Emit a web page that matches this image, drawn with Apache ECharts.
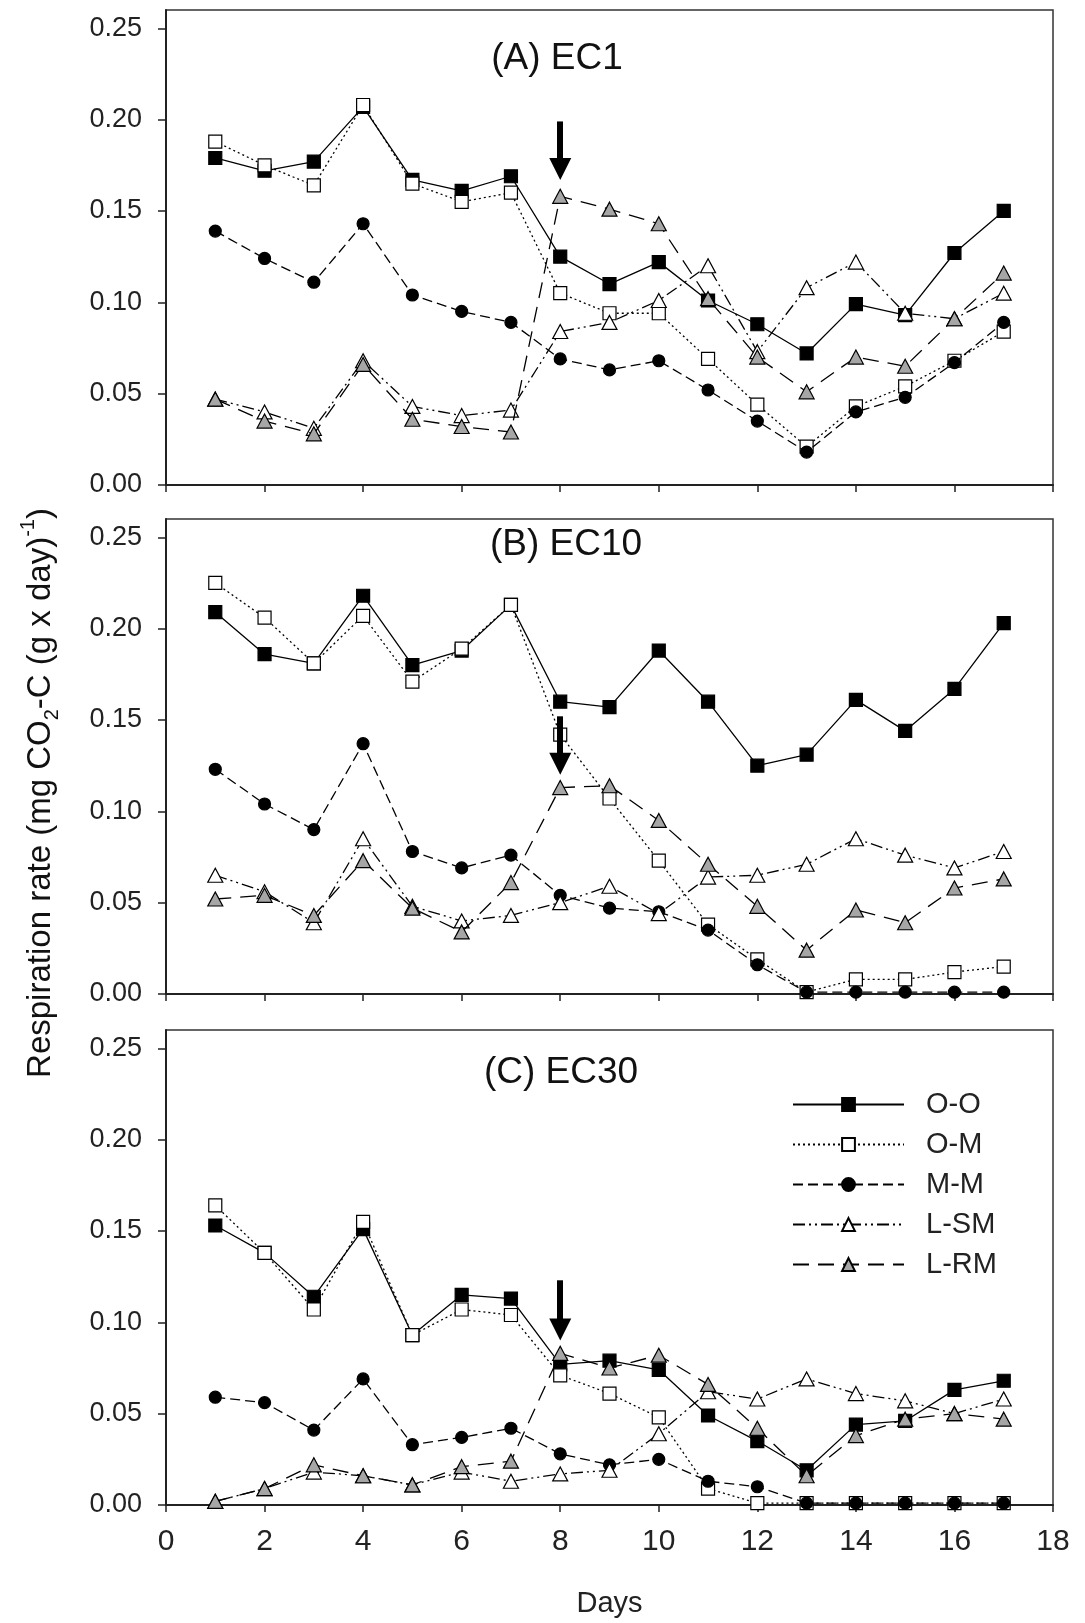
<!DOCTYPE html>
<html>
<head>
<meta charset="utf-8">
<script src="https://cdn.jsdelivr.net/npm/echarts@6/dist/echarts.min.js"></script>
<style>
html,body{margin:0;padding:0;background:#fff;}
#chart{width:1085px;height:1623px;}
</style>
</head>
<body>
<div id="chart"></div>
<script>
// ---------- data ----------
const days = [1,2,3,4,5,6,7,8,9,10,11,12,13,14,15,16,17];
const seriesNames = ['O-O','O-M','M-M','L-SM','L-RM'];
const panelTitles = ['(A) EC1','(B) EC10','(C) EC30'];
const yTicks = [0,0.05,0.10,0.15,0.20,0.25];
const xTicks = [0,2,4,6,8,10,12,14,16,18];

// Panel A (EC1)
const A_OO  = [0.179,0.172,0.177,0.207,0.167,0.161,0.169,0.125,0.110,0.122,0.101,0.088,0.072,0.099,0.093,0.127,0.150];
const A_OM  = [0.188,0.175,0.164,0.208,0.165,0.155,0.160,0.105,0.094,0.094,0.069,0.044,0.021,0.043,0.054,0.068,0.084];
const A_MM  = [0.139,0.124,0.111,0.143,0.104,0.095,0.089,0.069,0.063,0.068,0.052,0.035,0.018,0.040,0.048,0.067,0.089];
const A_LSM = [0.047,0.040,0.031,0.068,0.043,0.038,0.041,0.084,0.089,0.101,0.120,0.073,0.108,0.122,0.094,0.091,0.105];
const A_LRM = [0.047,0.035,0.028,0.066,0.036,0.032,0.029,0.158,0.151,0.143,0.102,0.070,0.051,0.070,0.065,0.091,0.116];

// Panel B (EC10)
const B_OO  = [0.209,0.186,0.181,0.218,0.180,0.188,0.213,0.160,0.157,0.188,0.160,0.125,0.131,0.161,0.144,0.167,0.203];
const B_OM  = [0.225,0.206,0.181,0.207,0.171,0.189,0.213,0.142,0.107,0.073,0.038,0.019,0.001,0.008,0.008,0.012,0.015];
const B_MM  = [0.123,0.104,0.090,0.137,0.078,0.069,0.076,0.054,0.047,0.045,0.035,0.016,0.001,0.001,0.001,0.001,0.001];
const B_LSM = [0.065,0.056,0.039,0.085,0.048,0.040,0.043,0.050,0.059,0.044,0.064,0.065,0.071,0.085,0.076,0.069,0.078];
const B_LRM = [0.052,0.054,0.043,0.073,0.047,0.034,0.061,0.113,0.114,0.095,0.071,0.048,0.024,0.046,0.039,0.058,0.063];

// Panel C (EC30)
const C_OO  = [0.153,0.138,0.114,0.151,0.093,0.115,0.113,0.077,0.079,0.074,0.049,0.035,0.019,0.044,0.046,0.063,0.068];
const C_OM  = [0.164,0.138,0.107,0.155,0.093,0.107,0.104,0.071,0.061,0.048,0.009,0.001,0.001,0.001,0.001,0.001,0.001];
const C_MM  = [0.059,0.056,0.041,0.069,0.033,0.037,0.042,0.028,0.022,0.025,0.013,0.010,0.001,0.001,0.001,0.001,0.001];
const C_LSM = [0.002,0.009,0.018,0.016,0.011,0.018,0.013,0.017,0.019,0.039,0.062,0.058,0.069,0.061,0.057,0.050,0.058];
const C_LRM = [0.002,0.009,0.022,0.016,0.011,0.021,0.024,0.083,0.075,0.082,0.066,0.042,0.016,0.038,0.047,0.050,0.047];

// Arrows (day 8): shaft top value and tip value per panel
const arrowDay = 8;
const arrowTop = [0.199,0.152,0.123];
const arrowTip = [0.167,0.120,0.090];

// ---------- styling ----------
const FONT = 'Liberation Sans, Arial, sans-serif';
const styles = [
  {symbol:'rect',     size:13,      fill:'#000',    dash:'solid'},
  {symbol:'rect',     size:13,      fill:'#fff',    dash:[2,3]},
  {symbol:'circle',   size:12,      fill:'#000',    dash:[10,5]},
  {symbol:'triangle', size:[15,14], fill:'#fff',    dash:[12,4,2,4,2,4]},
  {symbol:'triangle', size:[15,14], fill:'#a6a6a6', dash:[16,9]}
];
const panelData = [
  [A_OO,A_OM,A_MM,A_LSM,A_LRM],
  [B_OO,B_OM,B_MM,B_LSM,B_LRM],
  [C_OO,C_OM,C_MM,C_LSM,C_LRM]
];
const gridTops = [10,519,1030];
const GRID_LEFT = 166, GRID_W = 887, GRID_H = 475;

const grids = [], xAxes = [], yAxes = [], series = [];
panelData.forEach((pd, gi) => {
  grids.push({left:GRID_LEFT, top:gridTops[gi], width:GRID_W, height:GRID_H,
              show:true, borderColor:'#333', borderWidth:1.5, backgroundColor:'transparent',
              outerBoundsMode:'none', containLabel:false});
  xAxes.push({
    type:'value', gridIndex:gi, min:0, max:18, interval:2,
    axisLine:{show:true, onZero:false, lineStyle:{color:'#222', width:2}},
    axisTick:{show:true, inside:false, length:7, lineStyle:{color:'#222', width:1.5}},
    axisLabel:{show: gi===2, margin:22, fontSize:30, color:'#222', fontFamily:FONT},
    splitLine:{show:false},
    name: gi===2 ? 'Days' : '', nameLocation:'middle', nameGap:84,
    nameTextStyle:{fontSize:29, color:'#222', fontFamily:FONT}
  });
  yAxes.push({
    type:'value', gridIndex:gi, min:0, max:0.26,
    axisLine:{show:true, onZero:false, lineStyle:{color:'#222', width:2}},
    axisTick:{show:true, inside:false, length:8, customValues:yTicks, lineStyle:{color:'#222', width:1.5}},
    axisLabel:{show:true, margin:24, fontSize:27, color:'#222', fontFamily:FONT,
               customValues:yTicks, formatter:v => v.toFixed(2)},
    splitLine:{show:false}
  });
  pd.forEach((vals, si) => {
    const st = styles[si];
    const s = {
      type:'line', name:seriesNames[si], xAxisIndex:gi, yAxisIndex:gi,
      data: days.map((d,i)=>[d, vals[i]]),
      symbol:st.symbol, symbolSize:st.size, showAllSymbol:true,
      itemStyle:{color:st.fill, borderColor:'#000', borderWidth:1.2, opacity:1},
      lineStyle:{color:'#000', width:1.3, type:st.dash},
      emphasis:{disabled:true}, silent:true, z:2+si
    };
    if (si === 0) {
      s.markLine = {
        silent:true, animation:false,
        symbol:['none','triangle'], symbolSize:22,
        label:{show:false},
        itemStyle:{color:'#000'},
        lineStyle:{color:'#000', width:6, type:'solid'},
        emphasis:{disabled:true},
        data:[[ {coord:[arrowDay, arrowTop[gi]]},
                {coord:[arrowDay, arrowTip[gi] + 0.006]} ]]
      };
    }
    series.push(s);
  });
});

const titlePos = [[557,59],[566,545],[561,1073]];

const option = {
  animation:false,
  backgroundColor:'#fff',
  textStyle:{fontFamily:FONT},
  grid:grids, xAxis:xAxes, yAxis:yAxes, series:series,
  legend:{
    data:seriesNames, orient:'vertical', left:787, top:1085,
    itemWidth:111, itemHeight:16, itemGap:11,
    textStyle:{fontSize:29, color:'#222', fontFamily:FONT, padding:[0,0,0,17]},
    selectedMode:false, inactiveColor:'#000'
  },
  graphic: panelTitles.map((t,i)=>({
    type:'text', x:titlePos[i][0], y:titlePos[i][1], silent:true,
    style:{text:t, fontSize:37, fill:'#111', fontFamily:FONT, align:'center', verticalAlign:'middle'}
  })).concat([{
    type:'text', x:41, y:793, rotation:Math.PI/2, silent:true,
    style:{
      text:'{m|Respiration rate (mg CO}{sub|2}{m|-C (g x day)}{sup|-1}{m|)}',
      align:'center', verticalAlign:'middle', fill:'#111', fontFamily:FONT,
      rich:{
        m:{fontSize:33, lineHeight:46, fontFamily:FONT, fill:'#111'},
        sub:{fontSize:20, lineHeight:46, verticalAlign:'bottom', fontFamily:FONT, fill:'#111', padding:[0,0,2,0]},
        sup:{fontSize:20, lineHeight:46, verticalAlign:'top', fontFamily:FONT, fill:'#111'}
      }
    }
  }])
};

const chart = echarts.init(document.getElementById('chart'), null, {renderer:'canvas'});
chart.setOption(option);
</script>
</body>
</html>
